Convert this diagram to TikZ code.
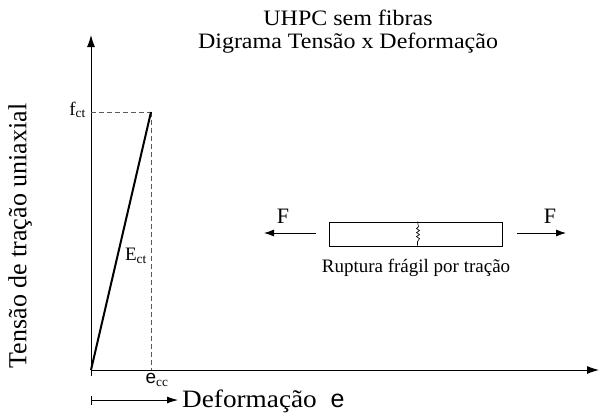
\documentclass[tikz,border=0pt]{standalone}
\usepackage{fontspec}
\setmainfont{Liberation Serif}
\newfontfamily\arialfont{Liberation Sans}
\newfontfamily\widefont[FakeStretch=1.09]{Liberation Serif}
\usetikzlibrary{arrows.meta}
\tikzset{
  txt/.style={inner sep=0pt,font=\widefont\fontsize{22}{22}\selectfont},
  small/.style={inner sep=0pt,font=\fontsize{19}{21}\selectfont},
  axis/.style={line width=1pt,-{Latex[length=12pt,width=8pt]}},
  guide/.style={gray!70!black,dash pattern=on 5pt off 3pt,line width=0.8pt},
  force/.style={line width=0.8pt,-{Latex[length=10pt,width=7pt]}}
}
\begin{document}
\begin{tikzpicture}[x=1pt,y=-1pt]
      \useasboundingbox (0,0) rectangle (600,416);
      % axes
      \coordinate (o) at (91,370);
      \coordinate (ytop) at (91,35);
      \coordinate (xend) at (599,370);
      \coordinate (ybot) at (91,376);
      \coordinate (peak) at (151,112);
      \coordinate (fy) at (91,112);
      \coordinate (ex) at (151,370);
      \draw[axis] (ybot) -- (ytop);
      \draw[axis] (o) -- (xend);
      \draw[guide] (fy) -- (peak);
      \draw[guide] (peak) -- (ex);
      \draw[line width=2pt] (o) -- (peak);
      \node[small,anchor=east] (fct) at (86,110) {f\textsubscript{ct}};
      \node[small,anchor=east] (ect) at (147,256) {E\textsubscript{ct}};
      \node[small,anchor=north] (ecc) at (157,373) {{\arialfont e}\textsubscript{cc}};
      \node[font=\fontsize{26}{26}\selectfont,inner sep=0pt,rotate=90] (ylab) at (20,236) {Tensão de tração uniaxial};
      % title
      \node[txt] (t1) at (348,18) {UHPC sem fibras};
      \node[txt] (t2) at (348,43) {Digrama Tensão x Deformação};
      % strain direction
      \coordinate (ds) at (91,400);
      \coordinate (de) at (178,400);
      \draw[line width=0.8pt,{Bar[width=9pt]}-{Latex[length=11pt,width=7pt]}] (ds) -- (de);
      \node[font=\widefont\fontsize{25}{25}\selectfont,inner sep=0pt,anchor=west] (dlab) at (182,401) {Deformação\; {\arialfont e}};
      % specimen
      \node[draw,line width=0.8pt,minimum width=173pt,minimum height=24pt,inner sep=0pt] (bar) at (415.5,234) {};
      \draw[line width=0.6pt] (bar.north) ++(2,0) -- ++(1,5) -- ++(-2,2) -- ++(3,2) -- ++(-3,2) -- ++(3,2) -- ++(-3,2) -- ++(3,2) -- ++(-2,3) -- ++(0,4);
      \coordinate (la) at (316,233);
      \coordinate (lb) at (264,233);
      \coordinate (ra) at (517,233);
      \coordinate (rb) at (566,233);
      \draw[force] (la) -- (lb);
      \draw[force] (ra) -- (rb);
      \node[font=\fontsize{22}{22}\selectfont,inner sep=0pt] (fl) at (283,216) {F};
      \node[font=\fontsize{22}{22}\selectfont,inner sep=0pt] (fr) at (550,216) {F};
      \node[small] (rup) at (416,268) {Ruptura frágil por tração};
\end{tikzpicture}
\end{document}
